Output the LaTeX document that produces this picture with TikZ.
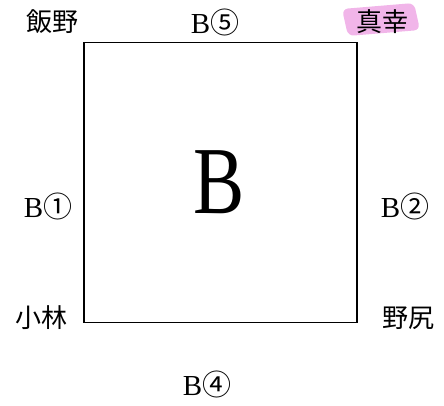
\documentclass[tikz,border=0pt]{standalone}
\usepackage{fontspec}
\newfontfamily\cjk{Noto Sans CJK JP}
\newfontfamily\serifB{Liberation Serif}
\definecolor{hl}{RGB}{230,120,215}
\tikzset{
  lab/.style={font=\cjk\fontsize{26}{30}\selectfont, inner sep=0pt},
  blab/.style={font=\fontsize{29}{32}\selectfont, inner sep=0pt},
  box/.style={draw, line width=1.5pt},
}
\newcommand{\bnum}[1]{\serifB B\hspace{0pt}{\cjk\fontsize{29}{32}\selectfont #1}}
\begin{document}
\begin{tikzpicture}[x=1pt,y=-1pt]
\useasboundingbox (0,0) rectangle (444,406);
\fill[hl, opacity=0.55, rounded corners=6pt] (342,9) -- (414,3) -- (420,30) -- (348,36) -- cycle;
\node[box, minimum width=273pt, minimum height=280pt, inner sep=0pt] (sq) at (220.5,182.5) {};
\node[font=\serifB\fontsize{96}{100}\selectfont, inner sep=0pt, xscale=0.8] (big) at (219,182) {B};
\node[lab] (iino) at (52,22) {飯野};
\node[blab] (b5) at (215,22) {\bnum{⑤}};
\node[lab] (masaki) at (382,22) {真幸};
\node[blab] (b1) at (48,206) {\bnum{①}};
\node[blab] (b2) at (405,206) {\bnum{②}};
\node[lab] (koba) at (42,318) {小林};
\node[lab] (nojiri) at (408,318) {野尻};
\node[blab] (b4) at (207,384) {\bnum{④}};
\end{tikzpicture}
\end{document}
